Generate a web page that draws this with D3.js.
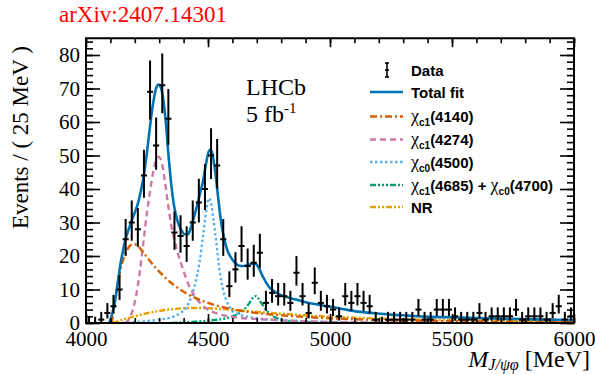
<!DOCTYPE html>
<html>
<head>
<meta charset="utf-8">
<script src="https://cdn.jsdelivr.net/npm/d3@7/dist/d3.min.js"></script>
<style>
  html, body { margin: 0; padding: 0; background: #fff; }
  svg { display: block; }
</style>
</head>
<body>
<svg id="chart" width="595" height="375"></svg>
<script>
// Binned J/psi phi invariant-mass spectrum, 25 MeV bins from 4000 to 6000 MeV
const binLow = 4000, binWidth = 25;
const counts = [
  0, 0, 1, 3, 5, 10, 25, 30, 28, 44,
  69, 53, 71, 61, 27, 26, 23, 30, 36, 40,
  50, 47, 25, 11, 16, 23, 17, 18, 21, 6,
  9, 8, 8, 6, 15, 8, 3, 12, 6, 5,
  4, 2, 8, 6, 8, 6, 5, 1, 0, 1,
  1, 1, 1, 1, 4, 1, 1, 4, 4, 4,
  2, 1, 1, 1, 3, 1, 2, 2, 2, 2,
  4, 1, 2, 2, 2, 1, 3, 5, 1, 2
];

// Fit projections (events per 25 MeV) sampled along the mass axis
const totalMass = [4095, 4100, 4110, 4120, 4130, 4140, 4150, 4162, 4175, 4187, 4200, 4214, 4225, 4237, 4250, 4262, 4275, 4287, 4297, 4307, 4317, 4327, 4337, 4350, 4362, 4375, 4390, 4405, 4418, 4430, 4442, 4455, 4467, 4480, 4492, 4502, 4510, 4518, 4528, 4540, 4552, 4565, 4578, 4592, 4608, 4625, 4645, 4665, 4685, 4698, 4710, 4722, 4735, 4750, 4768, 4790, 4820, 4860, 4905, 4950, 4990, 5050, 5115, 5185, 5250, 5320, 5390, 5490, 5600, 5700, 5800, 5900, 6000];
const totalFit = [0, 1, 3.5, 7, 12, 17, 21, 25, 28, 30.5, 33, 36, 39.5, 44, 51, 58.5, 65.5, 70, 71.2, 70.3, 66.5, 60, 51, 41, 34.5, 30.5, 27.8, 26.5, 26.5, 28.5, 31.5, 35, 38.5, 42.5, 47.5, 51, 51.8, 50.5, 46, 38.5, 31, 25.5, 22, 19.8, 18.2, 17.2, 17, 17.3, 17.8, 17.5, 16.2, 14.2, 12.5, 10.8, 9.6, 8.6, 7.8, 7, 6.1, 5.5, 5, 4.2, 3.4, 2.9, 2.5, 2.2, 1.9, 1.7, 1.5, 1.3, 1.15, 1.0, 0.9];

const chi4140Mass = [4105, 4112, 4125, 4140, 4155, 4170, 4185, 4200, 4215, 4235, 4260, 4285, 4310, 4340, 4370, 4400, 4450, 4500, 4550, 4600, 4650, 4700, 4800, 4900, 5000, 5200, 5400, 5600, 5800, 6000];
const chi4140 = [0, 3, 9.5, 15.5, 19.5, 22, 23.3, 23.5, 22.8, 21, 18.7, 16.5, 14.6, 12.5, 10.8, 9.3, 7.4, 6, 4.9, 4.1, 3.5, 3, 2.3, 1.8, 1.4, 0.9, 0.6, 0.45, 0.35, 0.25];

const chi4274Mass = [4160, 4175, 4190, 4205, 4220, 4235, 4250, 4262, 4275, 4287, 4297, 4310, 4322, 4335, 4350, 4365, 4380, 4400, 4420, 4440, 4465, 4495, 4530, 4565, 4620, 4700, 4800, 4900, 5000, 5200, 5500];
const chi4274 = [0, 1, 3.5, 8, 15, 24, 33, 39, 45, 48.5, 49.6, 48, 43, 36, 29, 24, 20, 15.5, 11.5, 8.7, 6.2, 4.2, 3, 2.3, 1.6, 1.2, 0.8, 0.5, 0.3, 0.1, 0];

const chi4500Mass = [4150, 4200, 4300, 4350, 4385, 4410, 4430, 4450, 4465, 4480, 4492, 4503, 4512, 4522, 4535, 4548, 4560, 4575, 4595, 4620, 4660, 4700, 4800, 4900, 5000, 5200, 5500];
const chi4500 = [0, 0.3, 1, 1.7, 2.9, 4.5, 7.5, 12.5, 18, 26, 33, 37.2, 36, 31, 23.5, 15.5, 10.5, 6.8, 4, 2.8, 1.9, 1.4, 0.8, 0.5, 0.3, 0.1, 0];

const chi4700Mass = [4350, 4400, 4450, 4500, 4550, 4590, 4620, 4640, 4660, 4675, 4687, 4697, 4707, 4720, 4735, 4750, 4765, 4790, 4830, 4900, 5000, 5200];
const chi4700 = [0, 0.2, 0.4, 0.7, 1.1, 1.7, 2.6, 3.6, 5, 6.6, 7.8, 8, 7.3, 5.8, 4.2, 3, 2.1, 1.2, 0.6, 0.3, 0.1, 0];

const nrMass = [4110, 4130, 4160, 4200, 4250, 4300, 4350, 4400, 4450, 4500, 4550, 4600, 4650, 4700, 4800, 4900, 5000, 5100, 5250, 5500, 5750, 6000];
const nr = [0, 0.5, 1.2, 2, 2.9, 3.6, 4.1, 4.4, 4.5, 4.4, 4.2, 3.9, 3.6, 3.3, 2.8, 2.3, 1.9, 1.6, 1.2, 0.9, 0.7, 0.6];

const xTicks = [4000, 4500, 5000, 5500, 6000];
const yTicks = [0, 10, 20, 30, 40, 50, 60, 70, 80];

const components = [
  { label: [["χ", "c1", "(4140)"]], mass: chi4140Mass, values: chi4140, color: "#d55e00", dash: "7,3,2,3" },
  { label: [["χ", "c1", "(4274)"]], mass: chi4274Mass, values: chi4274, color: "#cc79a7", dash: "6,4" },
  { label: [["χ", "c0", "(4500)"]], mass: chi4500Mass, values: chi4500, color: "#56b4e9", dash: "2.5,2.5" },
  { label: [["χ", "c1", "(4685) + "], ["χ", "c0", "(4700)"]], mass: chi4700Mass, values: chi4700, color: "#009e73", dash: "6,2,2,2,2,2,2,2" },
  { label: "NR", mass: nrMass, values: nr, color: "#e69f00", dash: "6,2,2,2,2,2" }
];

const svg = d3.select("#chart");
const L = 86, R = 574, T = 38.25, B = 323;
const x = d3.scaleLinear().domain([4000, 6000]).range([L, R]);
const y = d3.scaleLinear().domain([0, 85]).range([B, T]);

const serif = "'Liberation Serif', 'Times New Roman', serif";
const sans = "'Liberation Sans', Arial, Helvetica, sans-serif";

svg.append("defs").append("clipPath").attr("id", "plotArea")
  .append("rect").attr("x", L).attr("y", T).attr("width", R - L).attr("height", B - T);

// Fit components
const line = d3.line().x(d => x(d[0])).y(d => y(d[1])).curve(d3.curveMonotoneX);
const curves = svg.append("g").attr("clip-path", "url(#plotArea)");
components.slice().reverse().forEach(c => {
  curves.append("path")
    .datum(c.mass.map((m, i) => [m, c.values[i]]))
    .attr("d", line)
    .attr("fill", "none")
    .attr("stroke", c.color)
    .attr("stroke-width", 2.4)
    .attr("stroke-dasharray", c.dash);
});
curves.append("path")
  .datum(totalMass.map((m, i) => [m, totalFit[i]]))
  .attr("d", line)
  .attr("fill", "none")
  .attr("stroke", "#0072b2")
  .attr("stroke-width", 2.6);

// Data points with Poisson (Gehrels) intervals
const poissonLow = n => n === 0 ? 0 : n * Math.pow(1 - 1 / (9 * n) - 1 / (3 * Math.sqrt(n)), 3);
const poissonHigh = n => n + Math.sqrt(n + 0.75) + 1;
const pts = svg.append("g").attr("clip-path", "url(#plotArea)")
  .attr("stroke", "#000").attr("stroke-width", 2);
counts.forEach((n, i) => {
  const lo = binLow + i * binWidth, c = lo + binWidth / 2;
  pts.append("line").attr("x1", x(lo)).attr("x2", x(lo + binWidth)).attr("y1", y(n)).attr("y2", y(n));
  pts.append("line").attr("x1", x(c)).attr("x2", x(c)).attr("y1", y(poissonLow(n))).attr("y2", y(poissonHigh(n)));
});

// Frame and ticks (ticks point inward on all four sides)
const axes = svg.append("g");
function drawAxis(axisGen, tx, ty) {
  const g = axes.append("g").attr("transform", `translate(${tx},${ty})`).call(axisGen);
  g.select(".domain").remove();
  g.selectAll(".tick line").attr("stroke", "#000").attr("stroke-width", 1.6);
  g.selectAll(".tick text").attr("fill", "#000").style("font-family", serif).style("font-size", "21px");
  return g;
}
const xMinor = d3.range(4000, 6001, 100);
const yMinor = d3.range(0, 85, 2);
drawAxis(d3.axisBottom(x).tickValues(xMinor).tickSize(-5).tickFormat(""), 0, B);
drawAxis(d3.axisBottom(x).tickValues(xTicks).tickSize(-9).tickPadding(8).tickFormat(d3.format("d")), 0, B);
drawAxis(d3.axisTop(x).tickValues(xMinor).tickSize(-5).tickFormat(""), 0, T);
drawAxis(d3.axisTop(x).tickValues(xTicks).tickSize(-9).tickFormat(""), 0, T);
drawAxis(d3.axisLeft(y).tickValues(yMinor).tickSize(-7).tickFormat(""), L, 0);
drawAxis(d3.axisLeft(y).tickValues(yTicks).tickSize(-14).tickPadding(6).tickFormat(d3.format("d")), L, 0);
drawAxis(d3.axisRight(y).tickValues(yMinor).tickSize(-7).tickFormat(""), R, 0);
drawAxis(d3.axisRight(y).tickValues(yTicks).tickSize(-14).tickFormat(""), R, 0);
axes.append("rect").attr("x", L).attr("y", T).attr("width", R - L).attr("height", B - T)
  .attr("fill", "none").attr("stroke", "#000").attr("stroke-width", 2);

// Axis titles
svg.append("text")
  .attr("transform", `translate(28,${(T + 237) / 2}) rotate(-90)`)
  .attr("text-anchor", "middle")
  .style("font-family", serif).style("font-size", "23px")
  .text("Events / ( 25 MeV )");

const xt = svg.append("text")
  .attr("x", 590).attr("y", 367).attr("text-anchor", "end")
  .style("font-family", serif).style("font-size", "24px");
xt.append("tspan").style("font-style", "italic").text("M");
xt.append("tspan").style("font-style", "italic").style("font-size", "16px").attr("dy", 3).text("J/ψφ");
xt.append("tspan").attr("dy", -3).text(" [MeV]");

// Header and experiment label
svg.append("text").attr("x", 59).attr("y", 22)
  .style("font-family", serif).style("font-size", "23px").attr("fill", "#ff0000")
  .text("arXiv:2407.14301");

svg.append("text").attr("x", 246).attr("y", 95)
  .style("font-family", serif).style("font-size", "24px").text("LHCb");
const lum = svg.append("text").attr("x", 246).attr("y", 122)
  .style("font-family", serif).style("font-size", "24px");
lum.append("tspan").text("5 fb");
lum.append("tspan").attr("dy", -9).style("font-size", "15px").text("-1");

// Legend
const leg = svg.append("g");
const lx0 = 370, lx1 = 403, tx0 = 411;
const rowY = [70, 92, 116.5, 139.5, 162, 185, 207];

leg.append("g").attr("stroke", "#000").attr("stroke-width", 1.6)
  .call(g => {
    g.append("line").attr("x1", 387).attr("x2", 387).attr("y1", rowY[0] - 7).attr("y2", rowY[0] + 7);
    g.append("line").attr("x1", 385).attr("x2", 389).attr("y1", rowY[0] - 7).attr("y2", rowY[0] - 7);
    g.append("line").attr("x1", 385).attr("x2", 389).attr("y1", rowY[0] + 7).attr("y2", rowY[0] + 7);
    g.append("line").attr("x1", 385).attr("x2", 389).attr("y1", rowY[0]).attr("y2", rowY[0]);
  });
function legendText(yy, label) {
  const t = leg.append("text").attr("x", tx0).attr("y", yy + 5.5)
    .style("font-family", sans).style("font-size", "15px").style("font-weight", "bold");
  if (typeof label === "string") { t.text(label); return; }
  label.forEach(([sym, sub, rest]) => {
    t.append("tspan").style("font-weight", "normal").style("font-family", serif).style("font-size", "18px").text(sym);
    t.append("tspan").style("font-size", "10px").attr("dy", 4).text(sub);
    t.append("tspan").attr("dy", -4).text(rest);
  });
}
legendText(rowY[0], "Data");
leg.append("line").attr("x1", lx0).attr("x2", lx1).attr("y1", rowY[1]).attr("y2", rowY[1])
  .attr("stroke", "#0072b2").attr("stroke-width", 2.6);
legendText(rowY[1], "Total fit");
components.forEach((c, i) => {
  const yy = rowY[i + 2];
  leg.append("line").attr("x1", lx0).attr("x2", lx1).attr("y1", yy).attr("y2", yy)
    .attr("stroke", c.color).attr("stroke-width", 2.4).attr("stroke-dasharray", c.dash);
  legendText(yy, c.label);
});
</script>
</body>
</html>
